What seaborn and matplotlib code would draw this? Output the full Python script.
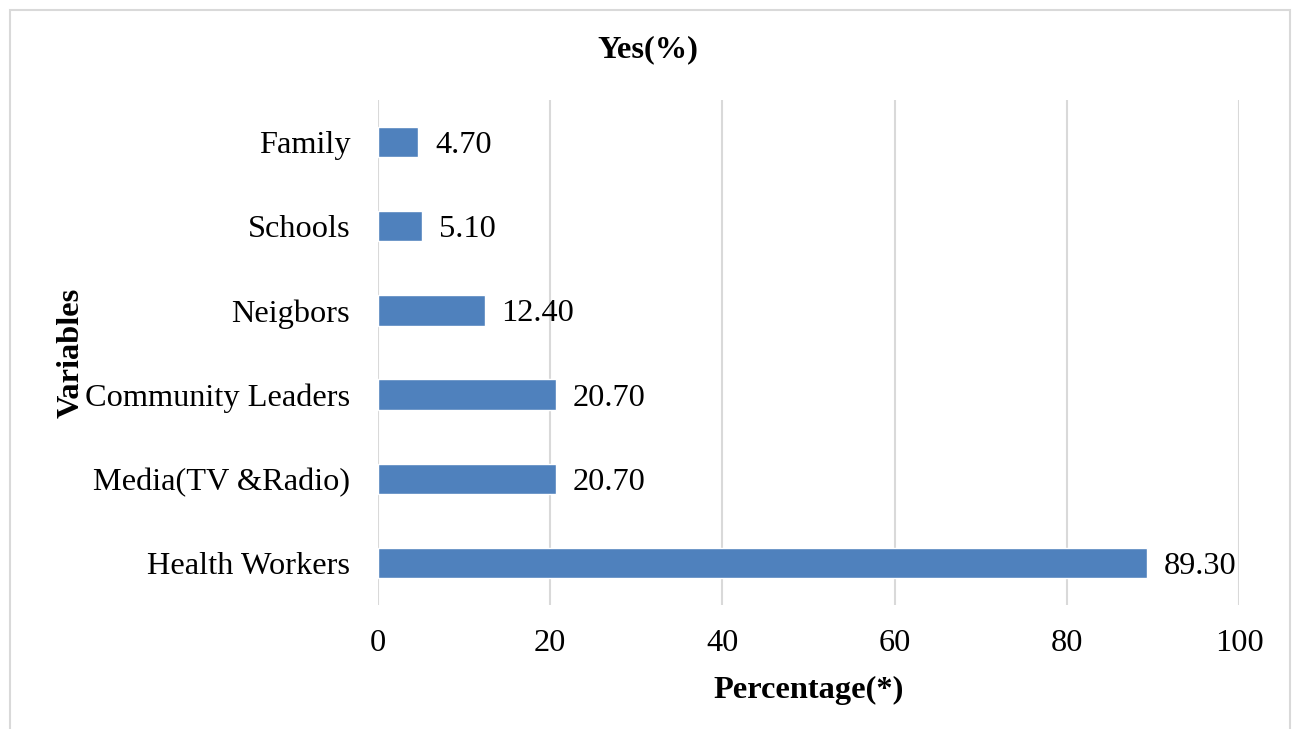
import matplotlib
matplotlib.use("Agg")
import matplotlib.pyplot as plt
import seaborn as sns
import pandas as pd
from matplotlib.patches import Rectangle

categories = ["Family", "Schools", "Neigbors", "Community Leaders", "Media(TV &Radio)", "Health Workers"]
values = [4.70, 5.10, 12.40, 20.70, 20.70, 89.30]
xticks = [0, 20, 40, 60, 80, 100]

sns.set_theme(style="white")
plt.rcParams['font.family'] = ['Liberation Serif', 'DejaVu Serif']

df = pd.DataFrame({"Variable": categories, "Value": values})

fig = plt.figure(figsize=(12.95, 7.29), dpi=100)
ax = fig.add_axes([378/1295, 1-605/729, (1239-378)/1295, (605-100)/729])

sns.barplot(data=df, y="Variable", x="Value", order=categories, color="#4F81BD",
            width=0.36, saturation=1, ax=ax, orient="h")

FS = 23.3
ax.set_xlim(0, 100)
ax.set_ylim(5.5, -0.5)
ax.set_xticks(xticks)
ax.set_xticklabels([str(t) for t in xticks])
ax.xaxis.grid(True, color="#d9d9d9", linewidth=1.5)
ax.yaxis.grid(False)
ax.set_axisbelow(True)
for s in ax.spines.values():
    s.set_visible(False)
ax.tick_params(axis="x", length=0, pad=17, labelsize=FS, colors="black")
ax.tick_params(axis="y", length=0, pad=20, labelsize=FS, colors="black")

for c in ax.containers:
    labs = ax.bar_label(c, labels=[f"{v:.2f}" for v in values], padding=12, fontsize=FS, color="black")
    for t in labs:
        t.set_va("center_baseline")

ax.set_xlabel("Percentage(*)", fontsize=FS, fontweight="bold", color="black", labelpad=13)
ax.set_ylabel("Variables", fontsize=FS, fontweight="bold", color="black")
ax.yaxis.set_label_coords(-0.34, 0.5)
fig.text(0.5, 1-50/729, "Yes(%)", ha="center", va="center", fontsize=FS, fontweight="bold", color="black")

fig.patches.append(Rectangle((10/1295, -0.1), 1280/1295, 1.1-10/729, transform=fig.transFigure,
                             fill=False, edgecolor="#d9d9d9", linewidth=1.5))

fig.savefig("out.png", dpi=100)
